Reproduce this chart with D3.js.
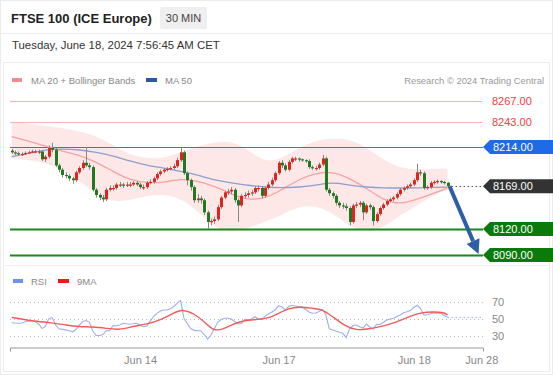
<!DOCTYPE html>
<html><head><meta charset="utf-8">
<script src="https://cdn.jsdelivr.net/npm/d3@7"></script>
<style>
body{margin:0;background:#fff;font-family:"Liberation Sans",Arial,sans-serif;}
</style></head><body><svg id="chart" width="553" height="375"></svg>
<script>
// data (30 min bars)
const opens = [8210,8208,8207,8206,8206,8207,8208,8209,8209,8209, 8200,8203,8213,8211,8193,8188,8182,8181,8178,8176,
  8185,8190,8196,8193,8191,8165,8159,8156,8154,8165, 8167,8167,8171,8171,8170,8171,8171,8173,8171,8168,
  8168,8173,8174,8178,8183,8186,8188,8189,8190,8192, 8199,8208,8184,8176,8168,8153,8155,8153,8139,8128,
  8129,8131,8145,8156,8162,8163,8165,8153,8147,8158, 8159,8161,8162,8167,8167,8158,8167,8171,8176,8184,
  8196,8193,8188,8197,8201,8201,8200,8199,8198,8191, 8190,8190,8194,8201,8165,8161,8158,8150,8147,8146,
  8144,8128,8147,8148,8150,8139,8147,8145,8129,8137, 8144,8148,8152,8154,8156,8160,8165,8167,8169,8171,
  8176,8185,8184,8167,8168,8173,8174,8175,8174,8173];
const closes = [8208,8207,8206,8206,8207,8208,8209,8209,8209,8200, 8203,8213,8211,8193,8188,8182,8181,8178,8176,8185,
  8190,8196,8193,8191,8165,8159,8156,8154,8165,8167, 8167,8171,8171,8170,8171,8171,8173,8171,8168,8168,
  8173,8174,8178,8183,8186,8188,8189,8190,8192,8199, 8208,8184,8176,8168,8153,8155,8153,8139,8128,8129,
  8131,8145,8156,8162,8163,8165,8153,8147,8158,8159, 8161,8162,8167,8167,8158,8167,8171,8176,8184,8196,
  8193,8188,8197,8201,8201,8200,8199,8198,8191,8190, 8190,8194,8201,8165,8161,8158,8150,8147,8146,8144,
  8128,8147,8148,8150,8139,8147,8145,8129,8137,8144, 8148,8152,8154,8156,8160,8165,8167,8169,8171,8176,
  8185,8184,8167,8168,8173,8174,8175,8174,8173,8169];
const highs = [8212,8210,8209,8208,8209,8210,8211,8211,8211,8210, 8205,8216,8219,8213,8195,8190,8185,8183,8180,8187,
  8192,8199,8214,8196,8193,8167,8161,8159,8167,8170, 8170,8173,8174,8173,8174,8174,8175,8175,8173,8171,
  8175,8177,8180,8185,8188,8190,8191,8192,8195,8202, 8214,8210,8186,8178,8170,8160,8158,8155,8141,8132,
  8134,8148,8158,8164,8166,8168,8167,8155,8160,8162, 8164,8165,8169,8170,8169,8169,8174,8179,8186,8198,
  8199,8195,8199,8203,8203,8202,8201,8200,8200,8193, 8192,8196,8205,8203,8167,8163,8160,8152,8150,8149,
  8146,8149,8151,8152,8152,8149,8149,8147,8139,8146, 8150,8154,8156,8158,8162,8167,8169,8171,8173,8178,
  8195,8188,8186,8170,8175,8176,8177,8176,8175,8174];
const lows = [8206,8205,8204,8204,8205,8206,8207,8207,8206,8198, 8197,8201,8208,8191,8185,8179,8178,8175,8172,8174,
  8183,8188,8191,8188,8163,8156,8153,8151,8152,8163, 8164,8165,8168,8167,8168,8168,8169,8169,8166,8165,
  8166,8171,8172,8176,8181,8184,8186,8187,8188,8190, 8197,8182,8170,8164,8150,8150,8149,8136,8120,8124,
  8126,8129,8143,8154,8159,8160,8150,8128,8145,8155, 8156,8158,8160,8163,8155,8156,8165,8169,8174,8182,
  8190,8186,8186,8195,8198,8197,8197,8196,8189,8188, 8187,8188,8192,8163,8158,8155,8147,8144,8143,8141,
  8124,8126,8144,8145,8130,8137,8142,8124,8127,8135, 8142,8146,8150,8152,8154,8158,8163,8165,8167,8169,
  8174,8181,8165,8165,8166,8171,8172,8172,8171,8168];

// moving averages + bollinger bands, sampled every 5 bars
const bandIdx = [0,5,10,15,20,25,30,35,40,45,50,55,60,65,70,75,80,85,90,95,100,105,110,115,120,125,129];
const ma20  = [8226,8221,8215,8209,8205,8197,8186,8176,8173,8173,8178,8175,8169,8160,8153,8155,8165,8177,8184,8186,8178,8167,8153,8148,8154,8161,8167];
const bbUp  = [8243,8241,8238,8236,8232,8227,8216,8205,8201,8201,8208,8215,8220,8221,8211,8196,8201,8213,8222,8224,8223,8214,8199,8190,8188,8189,8189];
const bbLow = [8201,8199,8196,8188,8176,8159,8151,8153,8158,8160,8155,8141,8121,8116,8121,8128,8136,8146,8147,8138,8123,8116,8121,8136,8147,8159,8165];
const ma50  = [8203,8207,8211,8212,8211,8208,8204,8198,8193,8190,8186,8182,8176,8173,8170,8168,8167,8168,8170,8174,8170,8168,8167,8167,8167,8168,8168];

const rsi = [45.4,45.0,44.7,45.0,46.5,47.3,47.7,46.5,43.9,38.6, 41.5,50.2,51.4,42.7,38.3,37.7,37.1,36.1,34.9,37.5,
  42.7,46.8,47.9,45.9,35.7,30.5,30.5,31.7,36.1,36.1, 42.1,41.9,42.7,44.7,44.2,43.9,44.2,44.7,42.1,40.7,
  41.5,47.3,52.6,56.3,58.9,60.1,60.1,61.5,64.2,68.2, 71.3,50.2,44.4,38.6,36.5,36.2,36.1,31.7,26.5,31.1,
  38.6,46.2,49.1,50.5,50.5,49.7,46.8,43.9,44.4,49.3, 48.7,49.7,52.3,49.7,49.1,53.1,55.5,57.8,60.1,65.3,
  63.6,60.1,64.2,65.7,64.7,63.9,63.9,60.7,57.8,56.3, 56.6,58.4,60.7,54.3,38.3,36.9,35.7,34.3,33.1,28.2,
  38.1,42.1,42.7,40.7,39.2,43.9,40.4,38.1,43.6,43.3, 45.6,48.5,49.7,50.6,52.6,54.3,57.0,58.1,59.5,63.0,
  65.7,61.8,54.3,54.3,55.7,56.8,56.3,56.3,53.7,51.7];
const ma9Idx = [0,6,12,16,20,24,28,32,36,40,44,48,50,54,57,60,63,65,68,73,76,79,82,85,89,92,95,99,102,105,109,113,117,121,125,128,129];
const ma9Val = [51.6,47.3,45.4,42.7,40.7,40.7,38.9,36.9,41.5,43.5,48.5,56.3,61.3,56.3,46.5,34.9,38.9,42.7,47.7,49.3,50.5,56.3,62.1,63.9,62.1,60.9,52.3,40.7,36.9,37.7,40.7,44.7,51.6,57.4,58.1,57.4,54.3];
const rsiTicks = [70, 50, 30];

const levelValues = [8267, 8243, 8214, 8169, 8120, 8090];
const levelKinds = ['resist', 'resist', 'ma', 'last', 'support', 'support'];
const targetLevel = 8090;

const xTickIdx = [38, 79, 119, 139];
const xTickLabels = ['Jun 14', 'Jun 17', 'Jun 18', 'Jun 28'];

// scales
const x = d3.scaleLinear().domain([-0.5, 139.5]).range([10, 483]);
const y = d3.scaleLinear().domain([8090, 8267]).range([255, 101]);
const yr = d3.scaleLinear().domain([30, 70]).range([336, 301.5]);

const svg = d3.select('#chart');
const FONT = '"Liberation Sans", Arial, sans-serif';

// frame
svg.append('rect').attr('x', 0.5).attr('y', 0.5).attr('width', 552).attr('height', 374)
  .attr('fill', '#fff').attr('stroke', '#ececec');
svg.append('line').attr('x1', 0).attr('x2', 553).attr('y1', 33.5).attr('y2', 33.5).attr('stroke', '#ececec');
svg.append('rect').attr('x', 3.5).attr('y', 62.5).attr('width', 546).attr('height', 309)
  .attr('fill', 'none').attr('stroke', '#ececec');
svg.append('line').attr('x1', 4).attr('x2', 549).attr('y1', 265.5).attr('y2', 265.5).attr('stroke', '#f0f0f0');

// header
svg.append('text').attr('x', 11).attr('y', 23).text('FTSE 100 (ICE Europe)')
  .attr('font-family', FONT).attr('font-size', 13).attr('font-weight', 'bold').attr('fill', '#222');
svg.append('rect').attr('x', 160).attr('y', 7).attr('width', 47).attr('height', 22).attr('rx', 2).attr('fill', '#efefef');
svg.append('text').attr('x', 183.5).attr('y', 22).attr('text-anchor', 'middle').text('30 MIN')
  .attr('font-family', FONT).attr('font-size', 11).attr('fill', '#444');
svg.append('text').attr('x', 12).attr('y', 49).text('Tuesday, June 18, 2024 7:56:45 AM CET')
  .attr('font-family', FONT).attr('font-size', 11.4).attr('fill', '#333');

// legend
const legend = svg.append('g').attr('font-family', FONT).attr('font-size', 9.5).attr('fill', '#888');
legend.append('rect').attr('x', 12).attr('y', 78).attr('width', 10).attr('height', 4).attr('fill', '#f58c8c');
legend.append('text').attr('x', 31).attr('y', 84).text('MA 20 + Bollinger Bands');
legend.append('rect').attr('x', 146).attr('y', 78).attr('width', 11).attr('height', 4).attr('fill', '#2d57a0');
legend.append('text').attr('x', 165).attr('y', 84).text('MA 50');
legend.append('text').attr('x', 544).attr('y', 84).attr('text-anchor', 'end').attr('fill', '#999')
  .attr('font-size', 9.4).text('Research \u00a9 2024 Trading Central');

// bollinger band
const bandPts = bandIdx.map((d, i) => ({ i: d, up: bbUp[i], lo: bbLow[i], m20: ma20[i], m50: ma50[i] }));
svg.append('path').datum(bandPts)
  .attr('d', d3.area().x(d => x(d.i)).y0(d => y(d.lo)).y1(d => y(d.up)).curve(d3.curveBasis))
  .attr('fill', '#fde3e3').attr('opacity', 0.85);

// level lines
levelValues.forEach((v, k) => {
  const kind = levelKinds[k];
  const yy = Math.round(y(v)) + 0.5;
  if (kind === 'resist') {
    svg.append('line').attr('x1', 10).attr('x2', 482).attr('y1', yy).attr('y2', yy)
      .attr('stroke', '#f7b3b3').attr('stroke-width', 1.2);
  } else if (kind === 'ma') {
    svg.append('line').attr('x1', 10).attr('x2', 483).attr('y1', yy).attr('y2', yy)
      .attr('stroke', '#3c72d8').attr('stroke-width', 1.2);
  } else if (kind === 'support') {
    svg.append('line').attr('x1', 10).attr('x2', 483).attr('y1', yy).attr('y2', yy)
      .attr('stroke', '#178a17').attr('stroke-width', 2);
  } else if (kind === 'last') {
    svg.append('line').attr('x1', x(129) + 4).attr('x2', 483).attr('y1', yy).attr('y2', yy)
      .attr('stroke', '#555').attr('stroke-width', 1.2).attr('stroke-dasharray', '1.5,2.5');
  }
});

// MA lines
svg.append('path').datum(bandPts)
  .attr('d', d3.line().x(d => x(d.i)).y(d => y(d.m20)).curve(d3.curveBasis))
  .attr('fill', 'none').attr('stroke', '#f7a3a3').attr('stroke-width', 1.3);
svg.append('path').datum(bandPts)
  .attr('d', d3.line().x(d => x(d.i)).y(d => y(d.m50)).curve(d3.curveBasis))
  .attr('fill', 'none').attr('stroke', '#8c9fd0').attr('stroke-width', 1.3);

// candles
const candles = closes.map((c, i) => ({ i, o: opens[i], h: highs[i], l: lows[i], c }));
const cg = svg.append('g');
cg.selectAll('line').data(candles).enter().append('line')
  .attr('x1', d => Math.round(x(d.i)) + 0.5).attr('x2', d => Math.round(x(d.i)) + 0.5)
  .attr('y1', d => y(d.h)).attr('y2', d => y(d.l))
  .attr('stroke', '#888').attr('stroke-width', 1);
cg.selectAll('rect').data(candles).enter().append('rect')
  .attr('x', d => Math.round(x(d.i)) - 1)
  .attr('width', 3)
  .attr('y', d => y(Math.max(d.o, d.c)))
  .attr('height', d => Math.max(1.2, Math.abs(y(d.o) - y(d.c))))
  .attr('fill', d => d.c >= d.o ? '#e0241b' : '#1f7a1f');

// level labels
levelValues.forEach((v, k) => {
  const kind = levelKinds[k];
  const yc = y(v);
  const label = v.toFixed(2);
  if (kind === 'resist') {
    svg.append('text').attr('x', 492).attr('y', yc + 4).text(label)
      .attr('font-family', FONT).attr('font-size', 11).attr('fill', '#f23c3c');
  } else {
    const fill = kind === 'ma' ? '#1f6ae6' : kind === 'last' ? '#333333' : '#0a7a0a';
    svg.append('path')
      .attr('d', `M483,${yc} L490,${yc - 7} L553,${yc - 7} L553,${yc + 7} L490,${yc + 7} Z`)
      .attr('fill', fill);
    svg.append('text').attr('x', 493).attr('y', yc + 4).text(label)
      .attr('font-family', FONT).attr('font-size', 11).attr('fill', '#fff');
  }
});

// forecast arrow
const ax0 = x(129) + 2, ay0 = y(closes[129]);
const ax1 = x(138.2), ay1 = y(targetLevel) - 1;
const ang = Math.atan2(ay1 - ay0, ax1 - ax0);
const headLen = 14, headW = 7;
const bx = ax1 - headLen * Math.cos(ang), by = ay1 - headLen * Math.sin(ang);
svg.append('line').attr('x1', ax0).attr('y1', ay0).attr('x2', bx).attr('y2', by)
  .attr('stroke', '#2c5fa6').attr('stroke-width', 4);
svg.append('path')
  .attr('d', `M${ax1},${ay1} L${bx + headW * Math.sin(ang)},${by - headW * Math.cos(ang)} L${bx - headW * Math.sin(ang)},${by + headW * Math.cos(ang)} Z`)
  .attr('fill', '#2c5fa6');

// RSI panel
const rl = svg.append('g').attr('font-family', FONT).attr('font-size', 9.5).attr('fill', '#888');
rl.append('rect').attr('x', 13).attr('y', 279).attr('width', 10).attr('height', 4).attr('fill', '#6f8fe8');
rl.append('text').attr('x', 31).attr('y', 285).text('RSI');
rl.append('rect').attr('x', 58).attr('y', 279).attr('width', 11).attr('height', 4).attr('fill', '#f01818');
rl.append('text').attr('x', 77).attr('y', 285).text('9MA');

rsiTicks.forEach(t => {
  const yy = Math.round(yr(t)) + 0.5;
  svg.append('line').attr('x1', 10).attr('x2', 483).attr('y1', yy).attr('y2', yy)
    .attr('stroke', '#bbb').attr('stroke-dasharray', '1,3');
  svg.append('text').attr('x', 492).attr('y', yr(t) + 4).text(t)
    .attr('font-family', FONT).attr('font-size', 11).attr('fill', '#888');
});

svg.append('path').datum(rsi)
  .attr('d', d3.line().x((d, i) => x(i)).y(d => yr(d)))
  .attr('fill', 'none').attr('stroke', '#9ab0f0').attr('stroke-width', 1.1);
svg.append('line').attr('x1', x(129)).attr('x2', 483).attr('y1', yr(rsi[129])).attr('y2', yr(rsi[129]))
  .attr('stroke', '#9ab0f0').attr('stroke-dasharray', '1.5,2.5');
svg.append('path').datum(ma9Idx.map((d, i) => [d, ma9Val[i]]))
  .attr('d', d3.line().x(d => x(d[0])).y(d => yr(d[1])).curve(d3.curveBasis))
  .attr('fill', 'none').attr('stroke', '#f25a5a').attr('stroke-width', 1.4);

// time axis
const axis = d3.axisBottom(x).tickValues(xTickIdx).tickFormat((d, i) => xTickLabels[i])
  .tickSizeInner(0).tickSizeOuter(4).tickPadding(9);
const ag = svg.append('g').attr('transform', 'translate(0,347.5)').call(axis);
ag.select('.domain').attr('stroke', '#999');
ag.selectAll('text').attr('font-family', FONT).attr('font-size', 11).attr('fill', '#888');
</script></body></html>
